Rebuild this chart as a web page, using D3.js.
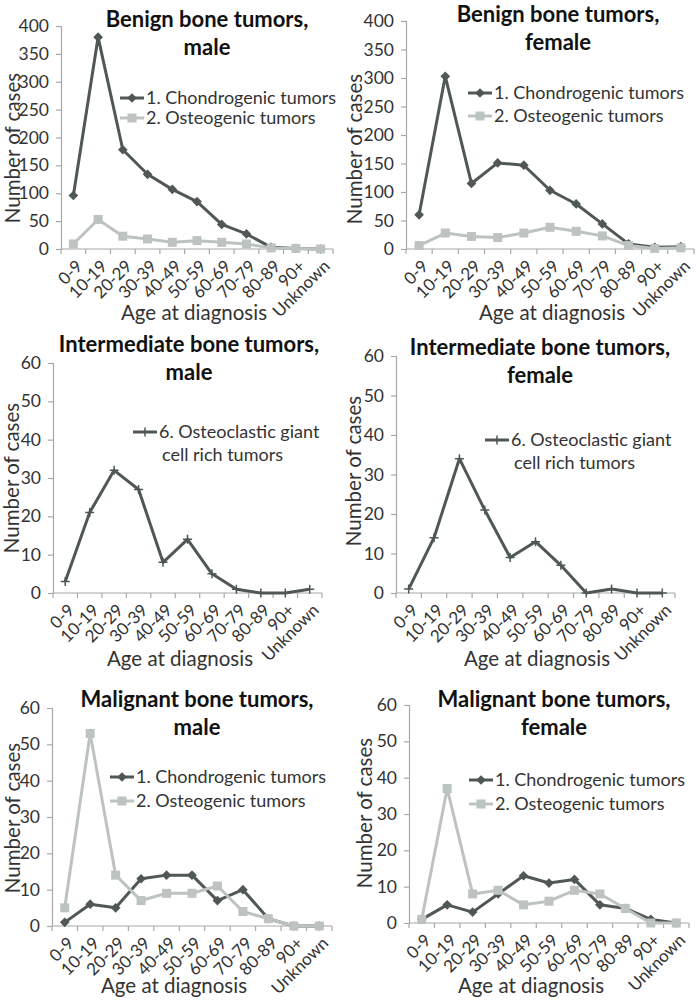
<!DOCTYPE html>
<html><head><meta charset="utf-8">
<script src="https://cdn.jsdelivr.net/npm/d3@7"></script>
<style>body{margin:0;background:#fff}svg{display:block}</style>
</head><body>
<svg id="c" width="697" height="1001"></svg>
<script>
// ---------- data ----------
const ageGroups = ["0-9","10-19","20-29","30-39","40-49","50-59","60-69","70-79","80-89","90+","Unknown"];
const benignMaleChondro   = [96,380,178,134,107,85,44,27,3,1,0];
const benignMaleOsteo     = [9,53,23,18,12,15,12,9,2,1,0];
const benignFemaleChondro = [60,303,115,151,147,103,79,44,9,3,4];
const benignFemaleOsteo   = [6,28,22,20,28,38,31,23,6,1,2];
const interMaleGiant      = [3,21,32,27,8,14,5,1,0,0,1];
const interFemaleGiant    = [1,14,34,21,9,13,7,0,1,0,0];
const malignantMaleChondro   = [1,6,5,13,14,14,7,10,2,0,0];
const malignantMaleOsteo     = [5,53,14,7,9,9,11,4,2,0,0];
const malignantFemaleChondro = [1,5,3,8,13,11,12,5,4,1,0];
const malignantFemaleOsteo   = [1,37,8,9,5,6,9,8,4,0,0];
const yTicksBenign = [0,50,100,150,200,250,300,350,400];
const yTicksSmall  = [0,10,20,30,40,50,60];
const chondroName = "1. Chondrogenic tumors";
const osteoName   = "2. Osteogenic tumors";
const giantNameLines = ["6. Osteoclastic giant","cell rich tumors"];
const titleBenignMale = ["Benign bone tumors,","male"];
const titleBenignFemale = ["Benign bone tumors,","female"];
const titleInterMale = ["Intermediate  bone tumors,","male"];
const titleInterFemale = ["Intermediate bone tumors,","female"];
const titleMalignantMale = ["Malignant bone tumors,","male"];
const titleMalignantFemale = ["Malignant bone tumors,","female"];
const xTitle = "Age at diagnosis";
const yTitle = "Number of cases";

// ---------- styles ----------
const FONT = "Lato, 'Open Sans', sans-serif";
const DARK = "#4f5856";
const LIGHT = "#bcc3c1";
const AXIS = "#a8a8a8";
const TEXT = "#333";

const svg = d3.select("#c");

const panels = [
  {x0:61,x1:333,yT:26,y0:249,ticks:yTicksBenign,title:titleBenignMale,tx:207,ty:27,
   series:[{v:benignMaleChondro,c:DARK,m:"diamond",n:chondroName},{v:benignMaleOsteo,c:LIGHT,m:"square",n:osteoName}],
   lx:120,ly:98,ldy:20,xlx:194,xly:320,ylx:13,yly:148},
  {x0:406,x1:694,yT:21,y0:249,ticks:yTicksBenign,title:titleBenignFemale,tx:558,ty:22,
   series:[{v:benignFemaleChondro,c:DARK,m:"diamond",n:chondroName},{v:benignFemaleOsteo,c:LIGHT,m:"square",n:osteoName}],
   lx:468,ly:93,ldy:23,xlx:552,xly:320,ylx:355,yly:149},
  {x0:53,x1:322,yT:363,y0:593,ticks:yTicksSmall,title:titleInterMale,tx:189,ty:352,
   series:[{v:interMaleGiant,c:DARK,m:"plus",n:giantNameLines}],
   lx:133,ly:432,ldy:23,xlx:180,xly:666,ylx:12,yly:478},
  {x0:396,x1:675,yT:356,y0:593,ticks:yTicksSmall,title:titleInterFemale,tx:540,ty:355,
   series:[{v:interFemaleGiant,c:DARK,m:"plus",n:giantNameLines}],
   lx:485,ly:440,ldy:23,xlx:537,xly:666,ylx:354,yly:471},
  {x0:52,x1:332,yT:708,y0:926,ticks:yTicksSmall,title:titleMalignantMale,tx:197,ty:707,
   series:[{v:malignantMaleChondro,c:DARK,m:"diamond",n:chondroName},{v:malignantMaleOsteo,c:LIGHT,m:"square",n:osteoName}],
   lx:110,ly:777,ldy:24,xlx:174,xly:993,ylx:13,yly:818},
  {x0:409,x1:689,yT:705,y0:923,ticks:yTicksSmall,title:titleMalignantFemale,tx:554,ty:707,
   series:[{v:malignantFemaleChondro,c:DARK,m:"diamond",n:chondroName},{v:malignantFemaleOsteo,c:LIGHT,m:"square",n:osteoName}],
   lx:469,ly:780,ldy:24,xlx:531,xly:993,ylx:365,yly:813}
];

function marker(g, type, x, y, color) {
  if (type === "diamond") {
    g.append("path").attr("d", d3.symbol(d3.symbolDiamond2, 60)())
      .attr("transform", `translate(${x},${y})`).attr("fill", color);
  } else if (type === "square") {
    g.append("rect").attr("x", x-4.5).attr("y", y-4.5).attr("width", 9).attr("height", 9).attr("fill", color);
  } else {
    g.append("path").attr("d", `M${x-4.5},${y}H${x+4.5}M${x},${y-4.5}V${y+4.5}`)
      .attr("stroke", color).attr("stroke-width", 1.5).attr("fill","none");
  }
}

panels.forEach(p => {
  const g = svg.append("g");
  const x = d3.scaleBand().domain(ageGroups).range([p.x0, p.x1]);
  const ymax = p.ticks[p.ticks.length-1];
  const y = d3.scaleLinear().domain([0, ymax]).range([p.y0, p.yT]);

  // y axis
  const ya = g.append("g").attr("transform", `translate(${p.x0},0)`)
    .call(d3.axisLeft(y).tickValues(p.ticks).tickSize(5).tickPadding(7).tickFormat(d3.format("d")));
  ya.select(".domain").attr("stroke", AXIS).attr("stroke-width", 1.2);
  ya.selectAll(".tick line").attr("stroke", AXIS).attr("stroke-width", 1.2);
  ya.selectAll("text").attr("font-family", FONT).attr("font-size", 17.5).attr("fill", TEXT);

  // x axis (ticks at category boundaries)
  const xa = g.append("g").attr("transform", `translate(0,${p.y0})`);
  xa.append("line").attr("x1", p.x0).attr("x2", p.x1).attr("stroke", AXIS).attr("stroke-width", 1.2);
  const bounds = ageGroups.map(a => x(a)).concat([p.x1]);
  xa.selectAll("line.t").data(bounds).join("line").attr("class","t")
    .attr("x1", d => d).attr("x2", d => d).attr("y1", 0).attr("y2", 5)
    .attr("stroke", AXIS).attr("stroke-width", 1.2);
  xa.selectAll("text").data(ageGroups).join("text")
    .attr("transform", d => `translate(${x(d) + x.bandwidth()/2 + 6},${14}) rotate(-45)`)
    .attr("text-anchor", "end").attr("dy", "0.35em")
    .attr("font-family", FONT).attr("font-size", 17).attr("fill", TEXT)
    .text(d => d);

  // axis titles
  g.append("text").attr("x", p.xlx).attr("y", p.xly).attr("text-anchor","middle")
    .attr("font-family", FONT).attr("font-size", 20.5).attr("fill", TEXT).text(xTitle);
  g.append("text").attr("transform", `translate(${p.ylx},${p.yly}) rotate(-90)`)
    .attr("text-anchor","middle").attr("dy","0.35em")
    .attr("font-family", FONT).attr("font-size", 20.5).attr("fill", TEXT).text(yTitle);

  // series
  const cx = d => x(d) + x.bandwidth()/2;
  p.series.forEach(s => {
    const line = d3.line().x((v,i) => cx(ageGroups[i])).y(v => y(v));
    g.append("path").attr("d", line(s.v)).attr("fill","none")
      .attr("stroke", s.c).attr("stroke-width", 3).attr("stroke-linejoin","round");
    s.v.forEach((v,i) => marker(g, s.m, cx(ageGroups[i]), y(v), s.c));
  });

  // title
  p.title.forEach((t,i) => {
    g.append("text").attr("x", p.tx).attr("y", p.ty + i*28).attr("text-anchor","middle")
      .attr("font-family", FONT).attr("font-weight", "bold").attr("font-size", 22).attr("fill", "#111")
      .text(t);
  });

  // legend
  p.series.forEach((s,i) => {
    const ly = p.ly + i*p.ldy;
    g.append("line").attr("x1", p.lx).attr("x2", p.lx+24).attr("y1", ly).attr("y2", ly)
      .attr("stroke", s.c).attr("stroke-width", 3);
    marker(g, s.m, p.lx+12, ly, s.c);
    const names = Array.isArray(s.n) ? s.n : [s.n];
    names.forEach((n,j) => {
      g.append("text").attr("x", p.lx + 26 + (j>0?3:0)).attr("y", ly + j*p.ldy).attr("dy","0.35em")
        .attr("font-family", FONT).attr("font-size", 18).attr("fill", TEXT).text(n);
    });
  });
});
</script>
</body></html>
